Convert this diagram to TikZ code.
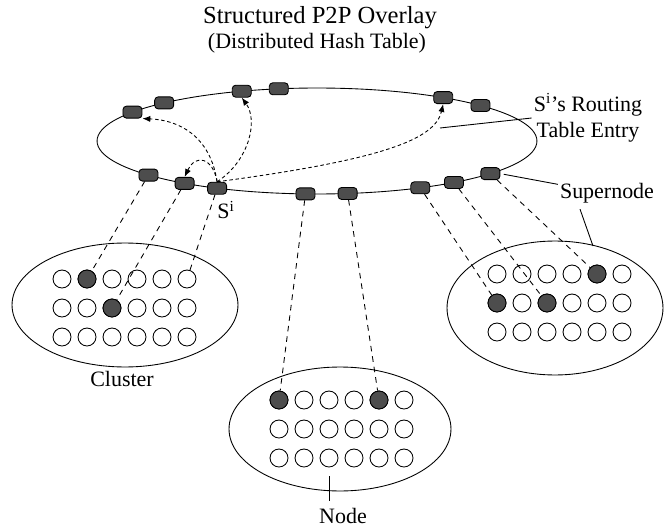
\documentclass[tikz,border=0pt]{standalone}
\usepackage{fontspec}
\setmainfont{Liberation Serif}
\usetikzlibrary{arrows.meta, positioning, calc}
\definecolor{peergray}{HTML}{4D4D4D}

\begin{document}
\begin{tikzpicture}[x=0.02cm, y=-0.02cm, line width=0.5pt,
    snode/.style={draw, fill=peergray, rounded corners=2pt, minimum width=0.38cm,
                  minimum height=0.24cm, inner sep=0pt},
    peer/.style={draw, circle, minimum size=0.36cm, inner sep=0pt},
    hot/.style={peer, fill=peergray},
    link/.style={dash pattern=on 3.2pt off 2.8pt},
    route/.style={dash pattern=on 2pt off 1.5pt, -{Latex[length=4.5pt, width=3.5pt]}},
    lbl/.style={font=\fontsize{12.5}{15}\selectfont, align=center, inner sep=1pt}
  ]
  \useasboundingbox (0,0) rectangle (666,527);
  \node[font=\fontsize{14}{16}\selectfont] (title) at (320,18) {Structured P2P Overlay};
  \node[lbl] (subtitle) at (317,43) {(Distributed Hash Table)};

  \coordinate (ring) at (317,141);
  \draw (ring) ellipse [x radius=4.4cm, y radius=1.06cm];
  \foreach \a/\n in {213/t1, 226/t2, 250/t3, 260/t4, 305/t5, 318/t6,
                     140/b1, 127/b2, 117/si, 93/b4, 82/b5, 62/b6, 51.5/b7, 38/b8}
    \node[snode] (\n) at ($(ring)+(\a:220 and 53)$) {};

  \draw (125,305) ellipse [x radius=2.26cm, y radius=1.24cm];
  \draw (555,308) ellipse [x radius=2.16cm, y radius=1.34cm];
  \draw (340,429) ellipse [x radius=2.22cm, y radius=1.24cm];
  \foreach \r in {1,2,3}
    \foreach \c in {1,...,6} {
      \node[peer] (L-\r-\c) at (37+25*\c, 250+29*\r) {};
      \node[peer] (R-\r-\c) at (472+25*\c, 245+29*\r) {};
      \node[peer] (B-\r-\c) at (254+25*\c, 371+29*\r) {};
    }
  \foreach \p in {L-1-2, L-2-3, R-1-5, R-2-1, R-2-3, B-1-1, B-1-5}
    \node[hot] at (\p) {};

  \draw[link] (b1) -- (L-1-2);
  \draw[link] (b2) -- (L-2-3);
  \draw[link] (si) -- (L-1-6);
  \draw[link] (b4) -- (B-1-1);
  \draw[link] (b5) -- (B-1-5);
  \draw[link] (b6) -- (R-2-1);
  \draw[link] (b7) -- (R-2-3);
  \draw[link] (b8) -- (R-1-5);

  \draw[route] (si.north) .. controls (210,135) and (178,120) .. (t1.south east);
  \draw[route] (si.north) .. controls (213,158) and (196,153) .. (b2.north);
  \draw[route] (si.north) .. controls (250,160) and (258,120) .. (t3.south);
  \draw[route] (si.north) .. controls (380,160) and (435,140) .. (t5.south);

  \node[lbl] (silbl) at (226,210) {S\textsuperscript{i}};
  \node[lbl] (rtlbl) at (588,118) {S\textsuperscript{i}'s Routing\\Table Entry};
  \coordinate (rtend) at (440,128);
  \draw (rtend) -- (rtlbl.west);
  \node[lbl] (sntext) at (607,193) {Supernode};
  \draw[shorten <=2pt] (b8.east) -- (sntext.170);
  \coordinate (sntip) at (593,246);
  \draw ($(sntext.south)+(-27,4)$) -- (sntip);
  \node[lbl] (cltext) at (122,379) {Cluster};
  \node[lbl] (nodetext) at (343,516) {Node};
  \draw ($(B-3-3.south)+(0,9)$) -- ($(B-3-3.south)+(0,34)$);
\end{tikzpicture}
\end{document}
